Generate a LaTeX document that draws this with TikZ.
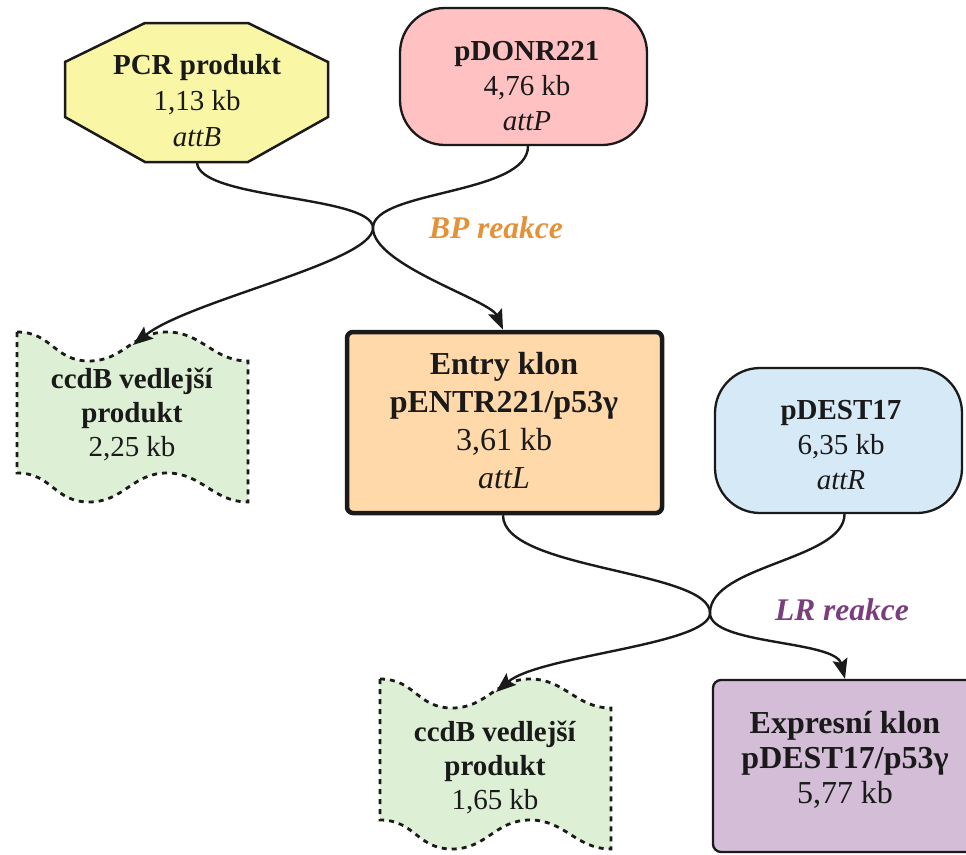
\documentclass[tikz,border=0pt]{standalone}
\usepackage{fontspec}
\setmainfont{Liberation Serif}
\usetikzlibrary{arrows.meta}
\definecolor{pcrfill}{HTML}{F9F7A6}
\definecolor{donrfill}{HTML}{FFC1C1}
\definecolor{tapefill}{HTML}{DDEFD4}
\definecolor{entryfill}{HTML}{FFD9AA}
\definecolor{destfill}{HTML}{D6E9F7}
\definecolor{exprfill}{HTML}{D4BDD7}
\definecolor{bpcol}{HTML}{E3923A}
\definecolor{lrcol}{HTML}{7A3E7F}
\definecolor{ink}{HTML}{1A1A1A}
\tikzset{
  txt/.style={align=center, inner sep=0pt, anchor=base, text=ink},
  small/.style={font=\fontsize{29}{#1}\selectfont},
  big/.style={font=\fontsize{32}{#1}\selectfont},
  shapebox/.style={draw=ink, line width=2.3pt, inner sep=0pt},
  curve/.style={draw=ink, line width=2.4pt},
  arr/.style={curve, -{Stealth[length=20pt,width=15pt,inset=3.5pt]}},
  tapebox/.style={fill=tapefill, draw=ink, line width=2.8pt, dash pattern=on 5pt off 5pt},
  reaction/.style={inner sep=0pt, anchor=base, font=\fontsize{31.5}{36}\selectfont\bfseries\itshape},
}
\begin{document}
\begin{tikzpicture}[x=1pt,y=-1pt]
\useasboundingbox (0,0) rectangle (966,854);
\clip (0,0) rectangle (966,854);

% PCR produkt octagon
\draw[shapebox, fill=pcrfill, line width=2.5pt] (145,23) -- (248,23) -- (328,62) -- (328,117) -- (248,162) -- (145,162) -- (65,117) -- (65,62) -- cycle;
\coordinate (pcrB) at (197,162);
\node[txt, small=36] (pcrT) at (197,146) {\textbf{PCR produkt}\\1,13 kb\\\textit{attB}};

% pDONR221
\node[shapebox, fill=donrfill, rounded corners=45pt, minimum width=247pt, minimum height=137pt] (pdonr) at (523.5,76.5) {};
\node[txt, small=35] (pdonrT) at (527,130) {\textbf{pDONR221}\\4,76 kb\\\textit{attP}};

% crossing points
\coordinate (bp) at (373,228);
\coordinate (lr) at (710,613);

% ccdB 1
\begin{scope}[shift={(17,332)}]
\draw[tapebox] (0,0) .. controls (35,0) and (37,29) .. (72,29) .. controls (107,29) and (115,0) .. (150,0) .. controls (185,0) and (196,29) .. (231,29) -- (231,170) .. controls (196,170) and (185,141) .. (150,141) .. controls (115,141) and (107,170) .. (72,170) .. controls (37,170) and (35,141) .. (0,141) -- cycle;
\coordinate (c1top) at (116,13);
\end{scope}
\node[txt, small=34] (ccdb1T) at (132,456) {\textbf{ccdB vedlejší}\\\textbf{produkt}\\2,25 kb};

% Entry klon
\node[shapebox, fill=entryfill, line width=4.5pt, rounded corners=6pt, minimum width=315pt, minimum height=181pt] (entry) at (504.5,422.5) {};
\node[txt, big=38] (entryT) at (504,488) {\textbf{Entry klon}\\\textbf{pENTR221/p53γ}\\3,61 kb\\\textit{attL}};

% pDEST17
\node[shapebox, fill=destfill, rounded corners=45pt, minimum width=247pt, minimum height=145pt] (pdest) at (838.5,440.5) {};
\node[txt, small=35] (pdestT) at (841,489) {\textbf{pDEST17}\\6,35 kb\\\textit{attR}};

% ccdB 2
\begin{scope}[shift={(380,679)}]
\draw[tapebox] (0,0) .. controls (35,0) and (37,29) .. (72,29) .. controls (107,29) and (115,0) .. (150,0) .. controls (185,0) and (196,29) .. (231,29) -- (231,170) .. controls (196,170) and (185,141) .. (150,141) .. controls (115,141) and (107,170) .. (72,170) .. controls (37,170) and (35,141) .. (0,141) -- cycle;
\coordinate (c2top) at (116,13);
\end{scope}
\node[txt, small=34] (ccdb2T) at (495,809) {\textbf{ccdB vedlejší}\\\textbf{produkt}\\1,65 kb};

% Expresni klon
\node[shapebox, fill=exprfill, rounded corners=8pt, minimum width=264pt, minimum height=172pt] (expr) at (845,766) {};
\node[txt, big=35] (exprT) at (845,803) {\textbf{Expresní klon}\\\textbf{pDEST17/p53γ}\\5,77 kb};

% reaction labels
\node[reaction, text=bpcol] (bpL) at (496,238) {BP reakce};
\node[reaction, text=lrcol] (lrL) at (842,620) {LR reakce};

% BP connectors
\draw[arr] (pcrB) .. controls (197,200) and (373,195) .. (bp) .. controls (373,262) and (190,300) .. (c1top);
\draw[arr] ([xshift=4.5pt]pdonr.south) .. controls (528,195) and (373,190) .. (bp) .. controls (373,265) and (490,300) .. ([xshift=-1.5pt]entry.north);

% LR connectors
\draw[arr] ([xshift=-1.5pt]entry.south) .. controls (503,570) and (710,570) .. (lr) .. controls (710,645) and (540,655) .. (c2top);
\draw[arr] ([xshift=6pt]pdest.south) .. controls (844.5,560) and (710,565) .. (lr) .. controls (710,645) and (835,640) .. (expr.north);
\end{tikzpicture}
\end{document}
